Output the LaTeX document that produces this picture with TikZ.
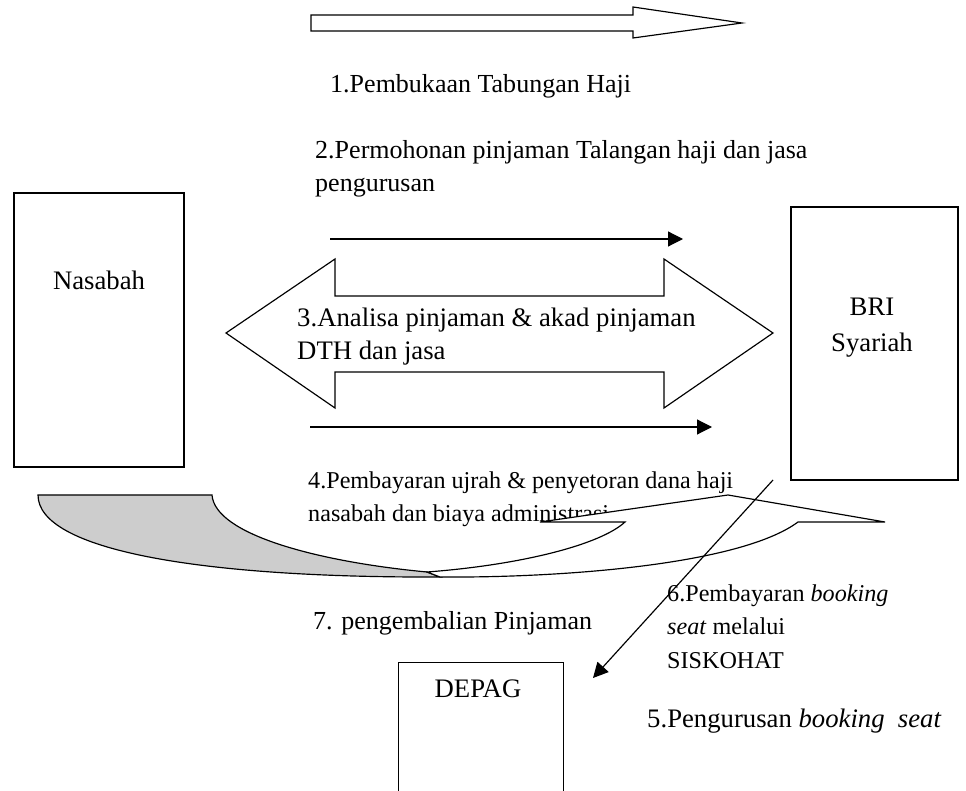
\documentclass[tikz,border=0pt]{standalone}
\usepackage{fontspec}
\setmainfont{Liberation Serif}
\usetikzlibrary{arrows.meta,positioning}
\definecolor{ink}{RGB}{0,0,0}
\definecolor{shade}{RGB}{205,205,205}
\newcommand{\bigtxt}{\fontsize{22.8}{28.2}\selectfont}
\newcommand{\midtxt}{\fontsize{22.2}{28.2}\selectfont}
\newcommand{\smalltxt}{\fontsize{20.6}{28.5}\selectfont}
\tikzset{
  >={Triangle[length=4.5mm,width=4.5mm]},
  party/.style={draw=ink,line width=1.2pt,inner sep=0pt},
  lbl/.style={font=\bigtxt,inner sep=0pt,anchor=base west,align=left,text=ink},
  mid lbl/.style={lbl,font=\midtxt},
  small lbl/.style={lbl,font=\smalltxt},
  flow/.style={->,line width=1pt,draw=ink},
  blockarrow/.style={draw=ink,line width=1pt,fill=#1},
  blockarrow/.default=white,
}

\begin{document}
\begin{tikzpicture}[x=0.03cm,y=-0.03cm]
  \useasboundingbox (0,0) rectangle (966,791);
  % the three parties
  \node[party,minimum width=5.1cm,minimum height=8.22cm] (nasabah) at (99,330) {};
  \node[party,minimum width=5.01cm,minimum height=8.19cm] (bri) at (874.5,343.5) {};
  \node[party,minimum width=4.95cm,minimum height=5cm,anchor=north west] (depag) at (398,662) {};
  \node[lbl,anchor=base] (nasabah-t) at (99,290) {Nasabah};
  \node[lbl,anchor=base,align=center] (bri-t) at (872,352) {BRI\\[3.3pt]Syariah};
  \node[lbl,anchor=base] (depag-t) at (478,697) {DEPAG};

  % 1 and 2
  \draw[blockarrow] (311,15) -- (633,15) -- (633,7) -- (742,23) -- (633,38) -- (633,31) -- (311,31) -- cycle;
  \node[mid lbl] (buka) at (330,93) {1.Pembukaan Tabungan Haji};
  \node[mid lbl] (mohon) at (315,192) {2.Permohonan pinjaman Talangan haji dan jasa\\pengurusan};
  \coordinate (mohon-s) at (330,239);
  \coordinate (mohon-e) at (683,239);
  \draw[flow] (mohon-s) -- (mohon-e);

  % 3
  \draw[blockarrow] (226,333) -- (335,259) -- (335,296) -- (664,296) -- (664,259) -- (773,333)
    -- (664,408) -- (664,372) -- (335,372) -- (335,408) -- cycle;
  \node[lbl] (analisa) at (297,360) {3.Analisa pinjaman \& akad pinjaman\\DTH dan jasa};
  \coordinate (bayar-s) at (310,427);
  \coordinate (bayar-e) at (712,427);
  \draw[flow] (bayar-s) -- (bayar-e);

  % 4 and 7
  \node[small lbl] (ujrah) at (308,522) {4.Pembayaran ujrah \& penyetoran dana haji\\nasabah dan biaya administrasi};
  \draw[blockarrow=shade] (38,495) -- (212,495) .. controls (215,535) and (320,562) .. (427,572)
    -- (440,577) .. controls (200,578) and (38,550) .. (38,495) -- cycle;
  \draw[blockarrow] (427,572) .. controls (520,565) and (600,545) .. (625,522) -- (540,522) -- (728,495)
    -- (885,522) -- (798,522) .. controls (740,565) and (560,578) .. (440,577) -- cycle;
  \node[mid lbl] (kembali) at (313,629) {7. pengembalian Pinjaman};

  % 5 and 6
  \coordinate (seat-s) at (773,480);
  \coordinate (seat-e) at (593,678);
  \draw[flow] (seat-s) -- (seat-e);
  \node[small lbl] (siskohat) at (667,668) {6.Pembayaran \textit{booking}\\\textit{seat} melalui\\SISKOHAT};
  \node[lbl] (urus) at (647,727) {5.Pengurusan \textit{booking}\ \ \textit{seat}};
\end{tikzpicture}
\end{document}
